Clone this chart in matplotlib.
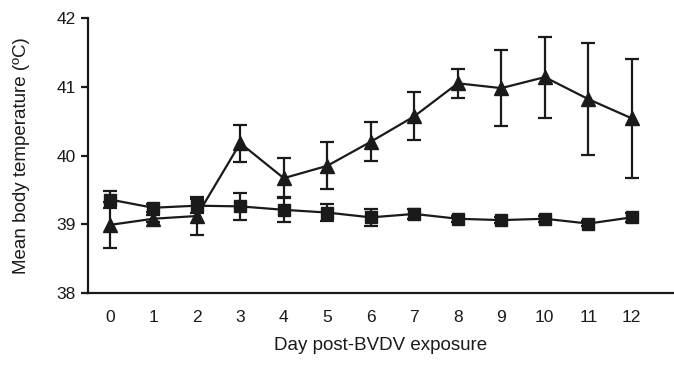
import matplotlib
matplotlib.use("Agg")
import matplotlib.pyplot as plt

days = list(range(13))
tick_labels = [str(d) for d in days]
control_mean = [39.36, 39.24, 39.27, 39.26, 39.21, 39.17, 39.10, 39.15, 39.08, 39.06, 39.08, 39.01, 39.10]
control_se = [0.13, 0.06, 0.10, 0.20, 0.18, 0.12, 0.12, 0.07, 0.04, 0.04, 0.04, 0.04, 0.07]
bvdv_mean = [38.99, 39.08, 39.12, 40.18, 39.67, 39.85, 40.20, 40.57, 41.05, 40.98, 41.14, 40.82, 40.54]
bvdv_se = [0.33, 0.05, 0.28, 0.27, 0.29, 0.34, 0.28, 0.35, 0.21, 0.55, 0.59, 0.81, 0.86]

plt.rcParams['font.family'] = ['Liberation Sans', 'DejaVu Sans']
col = '#1a1a1a'

fig = plt.figure(figsize=(6.74, 3.69), dpi=100)
ax = fig.add_axes([88/674, 1 - 293/369, 1 - 88/674, (293 - 18)/369])

ax.errorbar(days, bvdv_mean, yerr=bvdv_se, color=col, marker='^', markersize=10,
            lw=1.6, elinewidth=1.6, capsize=5, capthick=1.6, zorder=3)
ax.errorbar(days, control_mean, yerr=control_se, color=col, marker='s', markersize=8.5,
            lw=1.6, elinewidth=1.6, capsize=5, capthick=1.6, zorder=3)

ax.set_ylim(38, 42)
ax.set_xlim(-0.5, 12.97)
ax.set_yticks([38, 39, 40, 41, 42])
ax.set_xticks(days)
ax.set_xticklabels(tick_labels)
for s in ['top', 'right']:
    ax.spines[s].set_visible(False)
for s in ['left', 'bottom']:
    ax.spines[s].set_linewidth(1.6)
    ax.spines[s].set_color(col)
ax.tick_params(axis='y', direction='out', length=5, width=1.6, color=col, labelsize=12.5, pad=4, labelcolor=col)
ax.tick_params(axis='x', length=0, labelsize=12.5, pad=12, labelcolor=col)
ax.set_ylabel('Mean body temperature (ºC)', fontsize=13.5, color=col)
ax.yaxis.set_label_coords(-0.099, 0.5)
ax.set_xlabel('Day post-BVDV exposure', fontsize=13.5, color=col, labelpad=9)

fig.savefig('out.png', dpi=100)
